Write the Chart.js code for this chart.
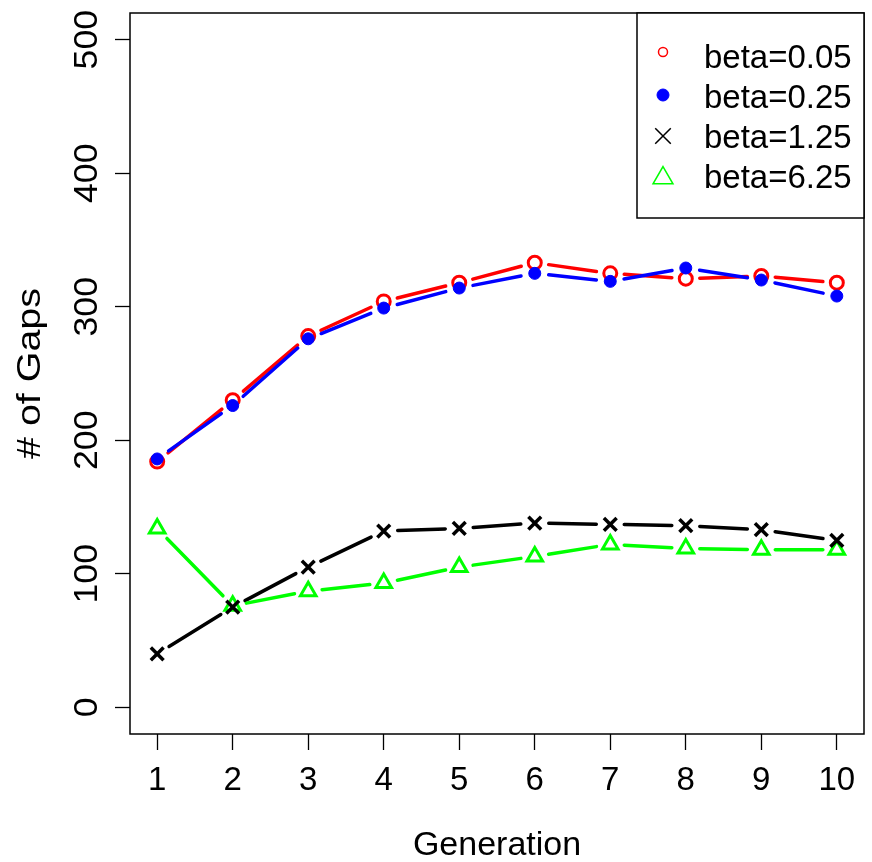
<!DOCTYPE html>
<html>
<head>
<meta charset="utf-8">
<script src="https://cdn.jsdelivr.net/npm/chart.js@4/dist/chart.umd.min.js"></script>
<style>
  html, body { margin: 0; padding: 0; background: #fff; }
  canvas { display: block; }
</style>
</head>
<body>
<canvas id="gaps" width="872" height="862"></canvas>
<script>
// values
var generations = [1, 2, 3, 4, 5, 6, 7, 8, 9, 10];
var beta005 = [184, 230, 278, 304, 318, 333, 325, 321, 323, 318];
var beta025 = [186, 226, 276, 299, 314, 325, 319, 329, 320, 308];
var beta125 = [40, 75, 105, 132, 134, 138, 137, 136, 133, 125];
var beta625 = [134, 76, 87, 93, 105, 113, 122, 119, 118, 118];
var seriesLabels = ['beta=0.05', 'beta=0.25', 'beta=1.25', 'beta=6.25'];
var xTicks = generations;
var yTicks = [0, 100, 200, 300, 400, 500];

var FONT = '"Liberation Sans", Arial, Helvetica, sans-serif';

function pts(vals) {
    return vals.map(function(v, i){ return {x: generations[i], y: v}; });
}

// R style type="b": line segments stop short of the points
var gapLines = {
    id: 'gapLines',
    beforeDatasetsDraw: function(chart){
        var ctx = chart.ctx, gap = 14;
        ctx.save();
        ctx.lineCap = 'round';
        chart.data.datasets.forEach(function(ds, i){
            var p = chart.getDatasetMeta(i).data;
            ctx.strokeStyle = ds.borderColor;
            ctx.lineWidth = 3.5;
            for (var k = 0; k < p.length - 1; k++) {
                var dx = p[k+1].x - p[k].x, dy = p[k+1].y - p[k].y;
                var len = Math.sqrt(dx*dx + dy*dy);
                if (len <= 2*gap) continue;
                var ux = dx/len, uy = dy/len;
                ctx.beginPath();
                ctx.moveTo(p[k].x + ux*gap, p[k].y + uy*gap);
                ctx.lineTo(p[k+1].x - ux*gap, p[k+1].y - uy*gap);
                ctx.stroke();
            }
        });
        ctx.restore();
    }
};

// box, tick labels, axis titles and legend drawn like base R graphics
var rFrame = {
    id: 'rFrame',
    afterDraw: function(chart){
        var ctx = chart.ctx, a = chart.chartArea;
        var xs = chart.scales.x, ys = chart.scales.y;
        ctx.save();
        ctx.strokeStyle = '#000';
        ctx.lineWidth = 1.5;
        ctx.strokeRect(a.left, a.top, a.right - a.left, a.bottom - a.top);

        ctx.fillStyle = '#000';
        ctx.font = '33px ' + FONT;
        ctx.textAlign = 'center';
        ctx.textBaseline = 'alphabetic';
        xTicks.forEach(function(t){
            ctx.fillText(String(t), xs.getPixelForValue(t), 790);
        });
        yTicks.forEach(function(t){
            ctx.save();
            ctx.translate(97, ys.getPixelForValue(t));
            ctx.rotate(-Math.PI/2);
            ctx.scale(1.08, 1);
            ctx.fillText(String(t), 0, 0);
            ctx.restore();
        });

        ctx.font = '34px ' + FONT;
        ctx.fillText('Generation', (a.left + a.right)/2, 855);
        ctx.save();
        ctx.translate(40, (a.top + a.bottom)/2);
        ctx.rotate(-Math.PI/2);
        ctx.scale(1.16, 1);
        ctx.fillText('# of Gaps', 0, 0);
        ctx.restore();

        // legend
        var lx = 637, ly = a.top, lw = a.right - lx, lh = 205;
        ctx.fillStyle = '#fff';
        ctx.fillRect(lx, ly, lw, lh);
        ctx.strokeRect(lx, ly, lw, lh);
        ctx.font = '33px ' + FONT;
        ctx.textAlign = 'left';
        ctx.fillStyle = '#000';
        var legSym = [
            {pointStyle: 'circle', radius: 4.5, borderWidth: 1.5, dy: -16},
            {pointStyle: 'circle', radius: 6, borderWidth: 1, dy: -13},
            {pointStyle: 'crossRot', radius: 11, borderWidth: 1.5, dy: -12},
            {pointStyle: 'triangle', radius: 11.5, borderWidth: 1.5, dy: -10}
        ];
        chart.data.datasets.forEach(function(ds, i){
            var base = 68 + i*40;
            var s = legSym[i];
            ctx.save();
            ctx.strokeStyle = ds.pointBorderColor;
            ctx.fillStyle = ds.pointBackgroundColor;
            ctx.lineWidth = s.borderWidth;
            Chart.helpers.drawPoint(ctx, {pointStyle: s.pointStyle, radius: s.radius, rotation: 0, borderWidth: s.borderWidth}, 663, base + s.dy);
            ctx.restore();
            ctx.fillText(ds.label, 704, base);
        });
        ctx.restore();
    }
};

var datasets = [
    {label: seriesLabels[0], data: pts(beta005), borderColor: '#ff0000', pointBorderColor: '#ff0000',
     pointBackgroundColor: 'rgba(0,0,0,0)', pointStyle: 'circle', pointRadius: 6.5, pointBorderWidth: 3, order: 3},
    {label: seriesLabels[1], data: pts(beta025), borderColor: '#0000ff', pointBorderColor: '#0000ff',
     pointBackgroundColor: '#0000ff', pointStyle: 'circle', pointRadius: 6, pointBorderWidth: 1, order: 2},
    {label: seriesLabels[2], data: pts(beta125), borderColor: '#000000', pointBorderColor: '#000000',
     pointBackgroundColor: 'rgba(0,0,0,0)', pointStyle: 'crossRot', pointRadius: 9, pointBorderWidth: 3.5, order: 0},
    {label: seriesLabels[3], data: pts(beta625), borderColor: '#00ff00', pointBorderColor: '#00ff00',
     pointBackgroundColor: 'rgba(0,0,0,0)', pointStyle: 'triangle', pointRadius: 9, pointBorderWidth: 3, order: 1}
];

var chart = new Chart(document.getElementById('gaps'), {
    type: 'line',
    data: {datasets: datasets},
    options: {
        responsive: false,
        animation: false,
        devicePixelRatio: 1,
        showLine: false,
        layout: {autoPadding: false, padding: {left: 0, top: 13, right: 8, bottom: 0}},
        plugins: {legend: {display: false}, tooltip: {enabled: false}},
        scales: {
            x: {
                type: 'linear', min: 0.64, max: 10.36,
                afterBuildTicks: function(s){ s.ticks = xTicks.map(function(v){ return {value: v}; }); },
                afterFit: function(s){ s.height = 128; s.paddingLeft = 0; s.paddingRight = 0; },
                ticks: {display: false},
                grid: {drawOnChartArea: false, drawTicks: true, tickLength: 16, tickColor: '#000', tickWidth: 1.3},
                border: {display: false}
            },
            y: {
                type: 'linear', min: -20, max: 520,
                afterBuildTicks: function(s){ s.ticks = yTicks.map(function(v){ return {value: v}; }); },
                afterFit: function(s){ s.width = 130; s.paddingTop = 0; s.paddingBottom = 0; },
                ticks: {display: false},
                grid: {drawOnChartArea: false, drawTicks: true, tickLength: 15, tickColor: '#000', tickWidth: 1.3},
                border: {display: false}
            }
        }
    },
    plugins: [gapLines, rFrame]
});
</script>
</body>
</html>
